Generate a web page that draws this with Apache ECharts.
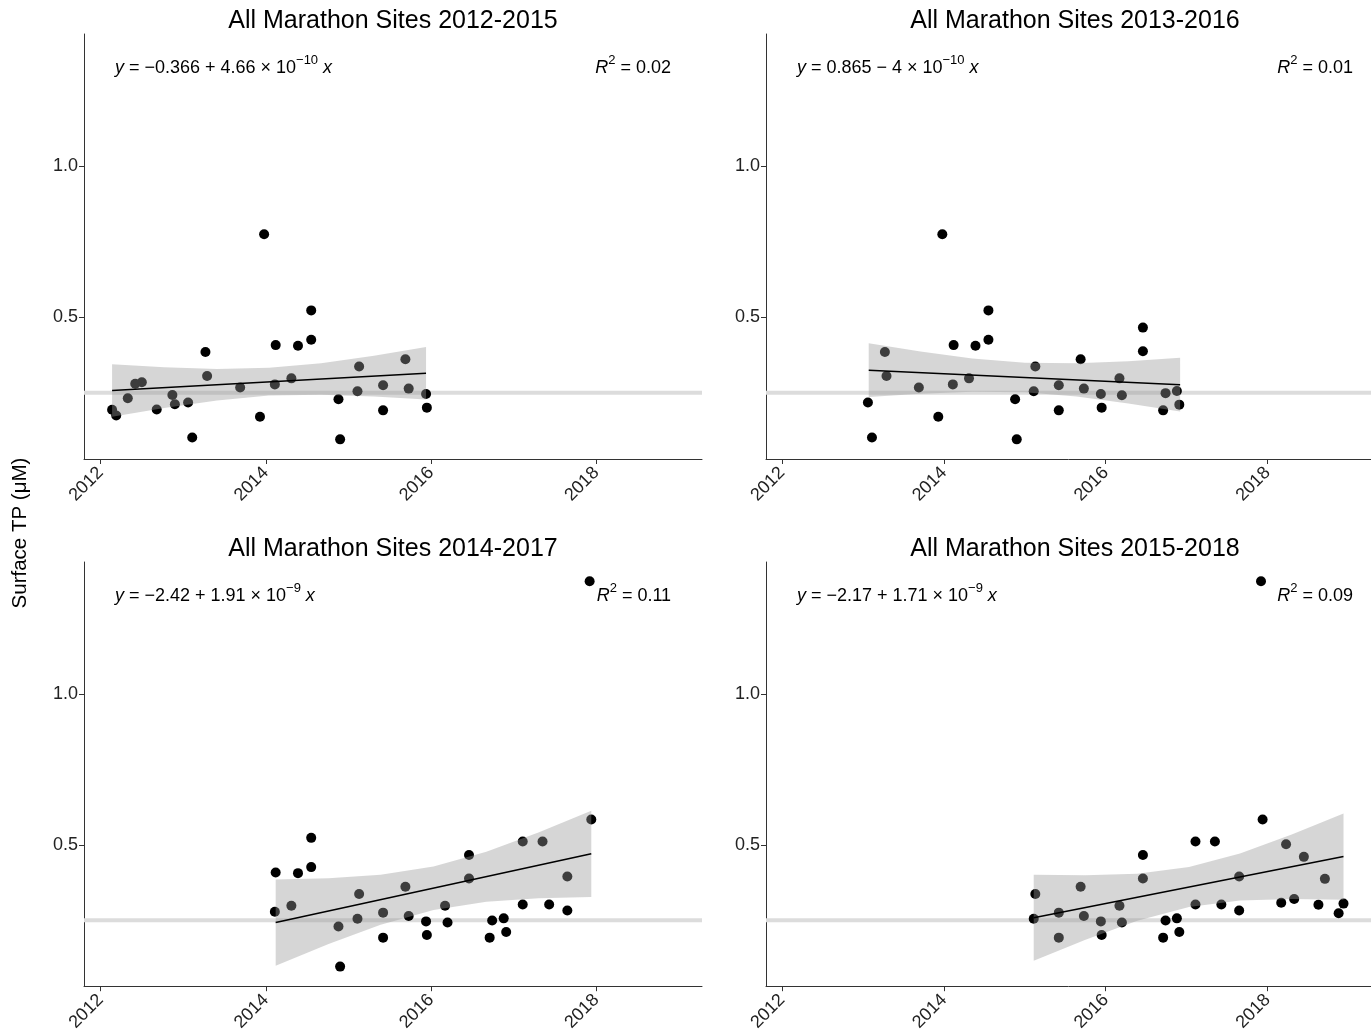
<!DOCTYPE html>
<html>
<head>
<meta charset="utf-8">
<script src="https://cdn.jsdelivr.net/npm/echarts@6/dist/echarts.min.js"></script>
<style>
  html, body { margin: 0; padding: 0; background: #fff; }
  #chart { width: 1371px; height: 1034px; }
</style>
</head>
<body>
<div id="chart"></div>
<script>
// all observations (decimal year, surface TP in µM)
const obsYear = [
  2012.14, 2012.19, 2012.33, 2012.42, 2012.50, 2012.68, 2012.87, 2012.90,
  2013.06, 2013.11, 2013.27, 2013.29, 2013.69, 2013.93, 2013.98,
  2014.11, 2014.12, 2014.31, 2014.39, 2014.55, 2014.55, 2014.88, 2014.90,
  2015.11, 2015.13, 2015.42, 2015.42, 2015.69, 2015.73, 2015.94, 2015.95,
  2016.17, 2016.20, 2016.46, 2016.46, 2016.71, 2016.74, 2016.88, 2016.91,
  2017.11, 2017.11, 2017.35, 2017.43, 2017.65, 2017.65, 2017.92, 2017.94,
  2018.17, 2018.23, 2018.33, 2018.45, 2018.63, 2018.71, 2018.88, 2018.94
];
const obsTP = [
  0.194, 0.175, 0.232, 0.280, 0.285, 0.195, 0.243, 0.212,
  0.218, 0.102, 0.385, 0.306, 0.268, 0.171, 0.775,
  0.278, 0.408, 0.298, 0.406, 0.523, 0.426, 0.229, 0.096,
  0.255, 0.337, 0.275, 0.192, 0.361, 0.264, 0.246, 0.201,
  0.298, 0.242, 0.466, 0.388, 0.192, 0.249, 0.256, 0.211,
  0.511, 0.302, 0.511, 0.302, 0.395, 0.282, 1.374, 0.584,
  0.308, 0.502, 0.320, 0.460, 0.301, 0.387, 0.273, 0.305
];

const panelTitles = [
  'All Marathon Sites 2012-2015', 'All Marathon Sites 2013-2016',
  'All Marathon Sites 2014-2017', 'All Marathon Sites 2015-2018'
];
const panelStart = [2012, 2013, 2014, 2015];

// fitted line ends and 95% band
const fitX = [[2012.14, 2015.94], [2013.07, 2016.92], [2014.12, 2017.94], [2015.11, 2018.94]];
const fitY = [[0.258, 0.315], [0.325, 0.277], [0.242, 0.470], [0.258, 0.461]];
const bandX = [
  [2012.14, 2012.77, 2013.41, 2014.04, 2014.67, 2015.31, 2015.94],
  [2013.07, 2013.71, 2014.35, 2015.00, 2015.64, 2016.28, 2016.92],
  [2014.12, 2014.76, 2015.39, 2016.03, 2016.67, 2017.30, 2017.94],
  [2015.11, 2015.75, 2016.39, 2017.03, 2017.66, 2018.30, 2018.94]
];
const bandUpper = [
  [0.345, 0.335, 0.329, 0.333, 0.348, 0.373, 0.402],
  [0.414, 0.387, 0.364, 0.350, 0.348, 0.355, 0.366],
  [0.385, 0.389, 0.401, 0.428, 0.477, 0.541, 0.613],
  [0.401, 0.399, 0.404, 0.426, 0.471, 0.534, 0.604]
];
const bandLower = [
  [0.171, 0.200, 0.225, 0.241, 0.244, 0.238, 0.228],
  [0.236, 0.247, 0.254, 0.252, 0.238, 0.215, 0.188],
  [0.099, 0.171, 0.235, 0.284, 0.311, 0.323, 0.327],
  [0.115, 0.185, 0.248, 0.294, 0.315, 0.320, 0.318]
];

// equation labels
const eqText = [
  '= −0.366 + 4.66 × 10', '= 0.865 − 4 × 10', '= −2.42 + 1.91 × 10', '= −2.17 + 1.71 × 10'
];
const eqExp = ['−10', '−10', '−9', '−9'];
const r2Text = ['0.02', '0.01', '0.11', '0.09'];

const xTicks = [2012, 2014, 2016, 2018];
const yTicks = [0.5, 1.0];
const refLine = 0.25;

const xMin = 2011.8, xMax = 2019.28;
const yMin = 0.031, yMax = 1.438;

const FONT = '"Liberation Sans", Arial, sans-serif';
const gridW = 618, gridH = 425;
const gridPos = [
  { left: 84, top: 34 }, { left: 766, top: 34 },
  { left: 84, top: 562 }, { left: 766, top: 562 }
];

const chart = echarts.init(document.getElementById('chart'));

const grids = [], xAxes = [], yAxes = [], series = [], graphics = [];

const richStyle = {
  i: { fontStyle: 'italic', fontSize: 18, fontFamily: FONT, lineHeight: 28, fill: '#000' },
  sup: { fontSize: 13, fontFamily: FONT, lineHeight: 15, verticalAlign: 'top', fill: '#000' }
};

gridPos.forEach((g, i) => {
  grids.push({ left: g.left, top: g.top, width: gridW, height: gridH });

  xAxes.push({
    type: 'value', gridIndex: i, min: xMin, max: xMax,
    axisLine: { show: true, onZero: false, lineStyle: { color: '#333', width: 1 } },
    axisTick: { show: true, customValues: xTicks, length: 5, lineStyle: { color: '#333' } },
    axisLabel: {
      customValues: xTicks, rotate: 45, fontSize: 18, color: '#222',
      fontFamily: FONT, margin: 11,
      formatter: (v) => String(v)
    },
    splitLine: { show: false }
  });
  yAxes.push({
    type: 'value', gridIndex: i, min: yMin, max: yMax,
    axisLine: { show: true, onZero: false, lineStyle: { color: '#333', width: 1 } },
    axisTick: { show: true, customValues: yTicks, length: 5, lineStyle: { color: '#333' } },
    axisLabel: {
      customValues: yTicks, fontSize: 18, color: '#222', fontFamily: FONT, margin: 6,
      formatter: (v) => v.toFixed(1)
    },
    splitLine: { show: false }
  });

  // reference line
  series.push({
    type: 'line', xAxisIndex: i, yAxisIndex: i, silent: true, symbol: 'none', z: 1,
    data: [[xMin, refLine], [xMax, refLine]],
    lineStyle: { color: '#dcdcdc', width: 4 }
  });

  // points in this 4-year window
  const pts = [];
  for (let k = 0; k < obsYear.length; k++) {
    if (obsYear[k] >= panelStart[i] && obsYear[k] < panelStart[i] + 4) {
      pts.push([obsYear[k], obsTP[k]]);
    }
  }
  series.push({
    type: 'scatter', xAxisIndex: i, yAxisIndex: i, z: 2,
    symbolSize: 10, itemStyle: { color: '#000', opacity: 1 },
    data: pts
  });

  // confidence band drawn over the points
  const bx = bandX[i], bu = bandUpper[i], bl = bandLower[i];
  series.push({
    type: 'custom', xAxisIndex: i, yAxisIndex: i, z: 3, silent: true,
    data: [[bx[0], bu[0]]],
    renderItem: (params, api) => {
      const points = [];
      for (let k = 0; k < bx.length; k++) points.push(api.coord([bx[k], bu[k]]));
      for (let k = bx.length - 1; k >= 0; k--) points.push(api.coord([bx[k], bl[k]]));
      return {
        type: 'polygon',
        shape: { points },
        style: { fill: 'rgba(153,153,153,0.4)', stroke: null }
      };
    }
  });

  // fitted line
  series.push({
    type: 'line', xAxisIndex: i, yAxisIndex: i, silent: true, symbol: 'none', z: 4,
    data: [[fitX[i][0], fitY[i][0]], [fitX[i][1], fitY[i][1]]],
    lineStyle: { color: '#000', width: 1.5 }
  });

  // title
  graphics.push({
    type: 'text', x: g.left + gridW / 2, y: g.top - 13,
    style: {
      text: panelTitles[i], fill: '#000', fontSize: 25, fontFamily: FONT,
      textAlign: 'center', textVerticalAlign: 'middle'
    }
  });

  // equation and R squared
  graphics.push({
    type: 'text', x: g.left + gridW * 0.05, y: g.top + 34,
    style: {
      text: '{i|y} ' + eqText[i] + '{sup|' + eqExp[i] + '} {i|x}',
      fill: '#000', fontSize: 18, fontFamily: FONT, lineHeight: 28,
      textAlign: 'left', textVerticalAlign: 'middle', rich: richStyle
    }
  });
  graphics.push({
    type: 'text', x: g.left + gridW * 0.95, y: g.top + 34,
    style: {
      text: '{i|R}{sup|2} = ' + r2Text[i],
      fill: '#000', fontSize: 18, fontFamily: FONT, lineHeight: 28,
      textAlign: 'right', textVerticalAlign: 'middle', rich: richStyle
    }
  });
});

graphics.push({
  type: 'text', x: 20, y: 533, rotation: Math.PI / 2,
  style: {
    text: 'Surface TP (μM)', fill: '#000', fontSize: 20.5, fontFamily: FONT,
    textAlign: 'center', textVerticalAlign: 'middle'
  }
});

chart.setOption({
  backgroundColor: '#fff',
  animation: false,
  grid: grids,
  xAxis: xAxes,
  yAxis: yAxes,
  series: series,
  graphic: graphics
});
</script>
</body>
</html>
